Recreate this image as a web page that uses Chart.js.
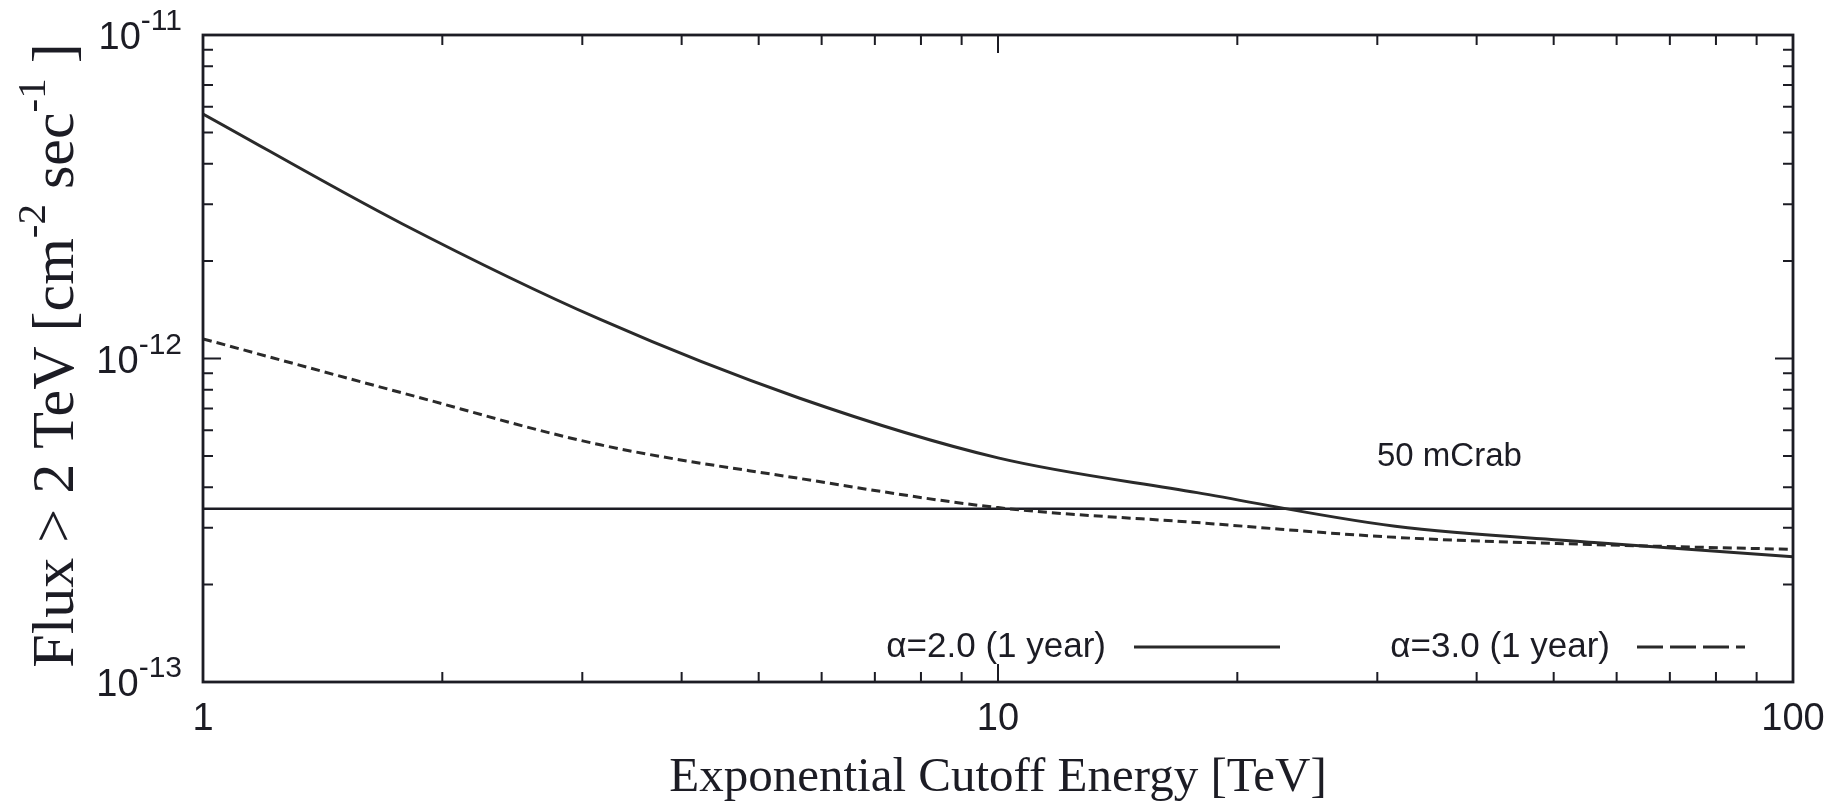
<!DOCTYPE html>
<html>
<head>
<meta charset="utf-8">
<title>Flux sensitivity vs cutoff energy</title>
<script src="https://cdn.jsdelivr.net/npm/chart.js@4.4.1/dist/chart.umd.min.js"></script>
<style>
  html, body { margin: 0; padding: 0; background: #fff; }
  #wrap { width: 1844px; height: 803px; }
</style>
</head>
<body>
<div id="wrap"><canvas id="fluxChart"></canvas></div>
<script>
// cutoff energies in TeV (quarter-decade steps)
const energies = [1, 1.78, 3.16, 5.62, 10, 17.8, 31.6, 56.2, 100];
// integral flux above 2 TeV, cm^-2 s^-1
const fluxAlpha2 = [5.70e-12, 2.61e-12, 1.32e-12, 7.55e-13, 4.93e-13, 3.85e-13, 3.03e-13, 2.70e-13, 2.44e-13];
const fluxAlpha3 = [1.15e-12, 7.83e-13, 5.41e-13, 4.26e-13, 3.46e-13, 3.11e-13, 2.80e-13, 2.66e-13, 2.57e-13];
const crabLevel = 3.43e-13;   // 50 mCrab
const crabText = '50 mCrab';
const seriesNames = ['α=2.0 (1 year)', 'α=3.0 (1 year)'];

const xRange = [1, 100];
const yRange = [1e-13, 1e-11];
const xMajor = [1, 10, 100];
const xLabels = ['1', '10', '100'];
const yMajor = [1e-13, 1e-12, 1e-11];
const yLabels = [['10', '-13'], ['10', '-12'], ['10', '-11']];

const xTitle = 'Exponential Cutoff Energy [TeV]';
// pieces of the y title: [text, superscript?]
const yTitle = [['Flux > 2 TeV [cm', false], ['-2', true], [' sec', false], ['-1', true], [' ]', false]];

const INK = '#1c1c24';
const LINE = '#2a2a2a';
const SANS = '"Liberation Sans", Arial, sans-serif';
const SERIF = '"Liberation Serif", "Times New Roman", serif';

// 2..9 times each decade inside the range
function minorTicks(lo, hi) {
  const out = [];
  for (let d = lo; d < hi; d *= 10) {
    for (let k = 2; k <= 9; k++) out.push(d * k);
  }
  return out;
}

const framePlugin = {
  id: 'gnuplotFrame',
  afterDraw(chart) {
    const { ctx, chartArea: a } = chart;
    const xs = chart.scales.x, ys = chart.scales.y;
    ctx.save();

    // inward ticks on all four sides
    ctx.strokeStyle = INK;
    ctx.lineWidth = 2;
    ctx.beginPath();
    const tickX = (v, len) => {
      const px = xs.getPixelForValue(v);
      ctx.moveTo(px, a.bottom); ctx.lineTo(px, a.bottom - len);
      ctx.moveTo(px, a.top); ctx.lineTo(px, a.top + len);
    };
    const tickY = (v, len) => {
      const py = ys.getPixelForValue(v);
      ctx.moveTo(a.left, py); ctx.lineTo(a.left + len, py);
      ctx.moveTo(a.right, py); ctx.lineTo(a.right - len, py);
    };
    minorTicks(xRange[0], xRange[1]).forEach(v => tickX(v, 10));
    xMajor.forEach(v => tickX(v, 18));
    minorTicks(yRange[0], yRange[1]).forEach(v => tickY(v, 10));
    yMajor.forEach(v => tickY(v, 18));
    ctx.stroke();

    // border
    ctx.lineWidth = 2.8;
    ctx.strokeRect(a.left, a.top, a.right - a.left, a.bottom - a.top);

    // x tick labels
    ctx.fillStyle = INK;
    ctx.font = '38px ' + SANS;
    ctx.textAlign = 'center';
    ctx.textBaseline = 'middle';
    xMajor.forEach((v, i) => {
      ctx.fillText(xLabels[i], xs.getPixelForValue(v), a.bottom + 38);
    });

    // y tick labels with exponent
    yMajor.forEach((v, i) => {
      const py = ys.getPixelForValue(v);
      const [base, exp] = yLabels[i];
      ctx.font = '30px ' + SANS;
      const ew = ctx.measureText(exp).width;
      ctx.font = '38px ' + SANS;
      const bw = ctx.measureText(base).width;
      const right = a.left - 21;
      ctx.textAlign = 'left';
      ctx.fillText(base, right - ew - bw, py + 4);
      ctx.font = '30px ' + SANS;
      ctx.fillText(exp, right - ew, py - 13);
    });

    // x title
    ctx.font = '49px ' + SERIF;
    ctx.textAlign = 'center';
    ctx.textBaseline = 'alphabetic';
    ctx.fillText(xTitle, (a.left + a.right) / 2, 791);

    // y title, rotated, with superscripts
    const big = 60, small = 41;
    ctx.translate(53, (a.top + a.bottom) / 2 - 3);
    ctx.rotate(-Math.PI / 2);
    let total = 0;
    yTitle.forEach(([t, sup]) => {
      ctx.font = (sup ? small : big) + 'px ' + SERIF;
      total += ctx.measureText(t).width;
    });
    let cx = -total / 2;
    ctx.textAlign = 'left';
    yTitle.forEach(([t, sup]) => {
      ctx.font = (sup ? small : big) + 'px ' + SERIF;
      ctx.fillText(t, cx, sup ? -8 : 20);
      cx += ctx.measureText(t).width;
    });
    ctx.setTransform(1, 0, 0, 1, 0, 0);

    // 50 mCrab note
    ctx.font = '33px ' + SANS;
    ctx.textAlign = 'left';
    ctx.textBaseline = 'middle';
    ctx.fillText(crabText, 1377, 457);

    // key: text right-justified before each line sample
    const keys = [
      { textRight: 1106, x0: 1134, x1: 1280, dash: [] },
      { textRight: 1610, x0: 1637, x1: 1745, dash: [26, 7] }
    ];
    const ky = a.bottom - 35;
    keys.forEach((k, i) => {
      ctx.font = '35px ' + SANS;
      ctx.textAlign = 'right';
      ctx.fillStyle = INK;
      ctx.fillText(seriesNames[i], k.textRight, ky);
      ctx.strokeStyle = LINE;
      ctx.lineWidth = 3;
      ctx.setLineDash(k.dash);
      ctx.beginPath();
      ctx.moveTo(k.x0, ky);
      ctx.lineTo(k.x1, ky);
      ctx.stroke();
    });
    ctx.restore();
  }
};

const pts = ys => energies.map((e, i) => ({ x: e, y: ys[i] }));

new Chart(document.getElementById('fluxChart'), {
  type: 'line',
  data: {
    datasets: [
      {
        label: seriesNames[0],
        data: pts(fluxAlpha2),
        borderColor: LINE,
        borderWidth: 3,
        pointRadius: 0,
        cubicInterpolationMode: 'monotone'
      },
      {
        label: seriesNames[1],
        data: pts(fluxAlpha3),
        borderColor: LINE,
        borderWidth: 3,
        borderDash: [9, 5],
        pointRadius: 0,
        cubicInterpolationMode: 'monotone'
      },
      {
        label: crabText,
        data: [{ x: xRange[0], y: crabLevel }, { x: xRange[1], y: crabLevel }],
        borderColor: INK,
        borderWidth: 2.5,
        pointRadius: 0
      }
    ]
  },
  options: {
    responsive: true,
    maintainAspectRatio: false,
    animation: false,
    layout: { padding: { left: 203, right: 51, top: 35, bottom: 121 } },
    plugins: {
      legend: { display: false },
      tooltip: { enabled: false }
    },
    scales: {
      x: { type: 'logarithmic', min: xRange[0], max: xRange[1], display: false },
      y: { type: 'logarithmic', min: yRange[0], max: yRange[1], display: false }
    }
  },
  plugins: [framePlugin]
});
</script>
</body>
</html>
